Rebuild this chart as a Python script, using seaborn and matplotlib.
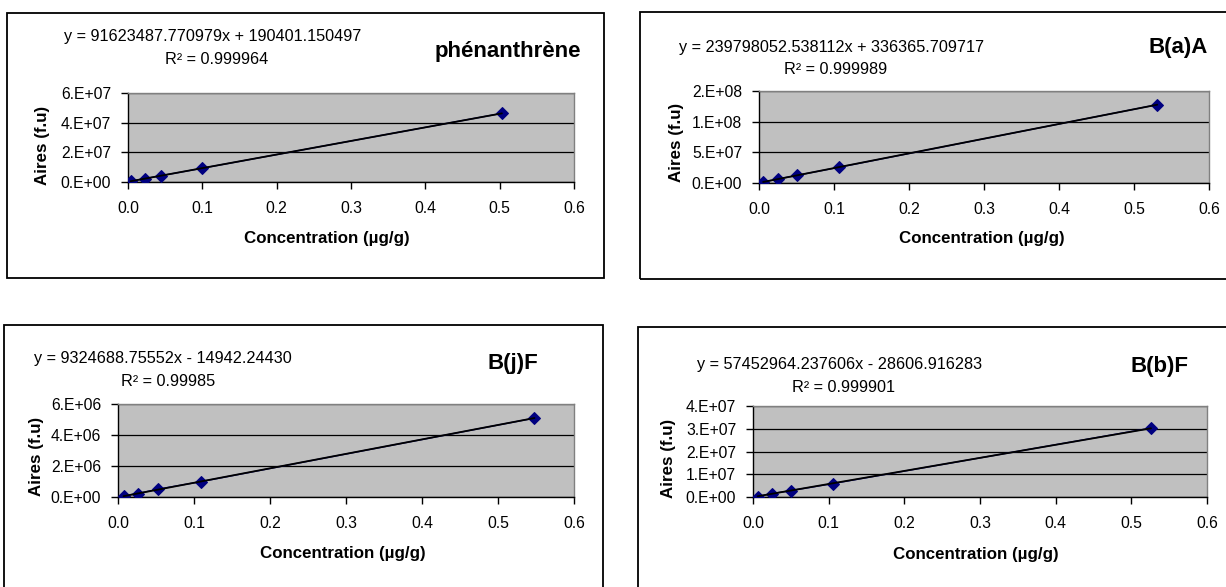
import matplotlib
matplotlib.use("Agg")
import matplotlib.pyplot as plt
import matplotlib.ticker as mticker
from matplotlib.patches import Rectangle
import seaborn as sns
import pandas as pd
import numpy as np

# ------------------------------------------------------------------
# data
# ------------------------------------------------------------------
names = ["phénanthrène", "B(a)A", "B(j)F", "B(b)F"]

conc_phe = [0.0035, 0.023, 0.045, 0.100, 0.503]
aire_phe = [0.5e6, 2.3e6, 4.3e6, 9.3e6, 4.63e7]

conc_baa = [0.0055, 0.025, 0.050, 0.106, 0.531]
aire_baa = [1.6e6, 6.4e6, 12.3e6, 25.5e6, 1.277e8]

conc_bjf = [0.0073, 0.026, 0.052, 0.109, 0.548]
aire_bjf = [0.08e6, 0.22e6, 0.50e6, 0.99e6, 5.09e6]

conc_bbf = [0.0061, 0.025, 0.050, 0.1055, 0.526]
aire_bbf = [0.2e6, 1.5e6, 2.8e6, 5.9e6, 3.03e7]

slopes = [91623487.770979, 239798052.538112, 9324688.75552, 57452964.237606]
intercepts = [190401.150497, 336365.709717, -14942.24430, -28606.916283]
equations = ["y = 91623487.770979x + 190401.150497",
             "y = 239798052.538112x + 336365.709717",
             "y = 9324688.75552x - 14942.24430",
             "y = 57452964.237606x - 28606.916283"]
r2_labels = ["R\u00b2 = 0.999964", "R\u00b2 = 0.999989", "R\u00b2 = 0.99985", "R\u00b2 = 0.999901"]

y_max = [6e7, 1.5e8, 6e6, 4e7]
y_step = [2e7, 5e7, 2e6, 1e7]
x_ticks = [0.0, 0.1, 0.2, 0.3, 0.4, 0.5, 0.6]

W, H = 1226, 587

# pixel layout: plot box, chart border, text anchors
layout = [
    dict(plot=(128, 93, 574, 182), border=(7, 13, 604, 278),
         eq=(64, 36.5), r2=(165, 59), title=(435, 51), xlab=(327, 239), ylab=(43, 145)),
    dict(plot=(759, 91, 1209, 183), border=(640, 12, 1260, 279),
         eq=(679, 47.5), r2=(784, 69), title=(1148, 47.5), xlab=(982, 239), ylab=(677, 142)),
    dict(plot=(118, 404, 574, 497), border=(4, 325, 603, 620),
         eq=(34, 359), r2=(121, 381), title=(487, 363), xlab=(343, 553.5), ylab=(36, 456)),
    dict(plot=(753, 406, 1207, 497), border=(638, 327, 1260, 620),
         eq=(697, 364.6), r2=(792, 387), title=(1130, 366.6), xlab=(976, 554.5), ylab=(669, 458)),
]

sns.set_style("white")
plt.rcParams['font.family'] = ['Liberation Sans', 'DejaVu Sans']
plt.rcParams['text.color'] = 'black'

fig = plt.figure(figsize=(W / 100, H / 100), dpi=100)


def fx(x):
    return x / W


def fy(y):
    return 1 - y / H


def sci_fmt(v, pos):
    return format(v, '#.0E')


datasets = [(conc_phe, aire_phe), (conc_baa, aire_baa), (conc_bjf, aire_bjf), (conc_bbf, aire_bbf)]

for i, (conc, aire) in enumerate(datasets):
    L = layout[i]
    bx0, by0, bx1, by1 = L["border"]
    fig.patches.append(Rectangle((fx(bx0), fy(by1)), fx(bx1 - bx0), (by1 - by0) / H,
                                 transform=fig.transFigure, fill=False,
                                 edgecolor="black", linewidth=1.3, zorder=0))

    px0, py0, px1, py1 = L["plot"]
    ax = fig.add_axes([fx(px0), fy(py1), fx(px1 - px0), (py1 - py0) / H])
    ax.set_facecolor("#C0C0C0")

    df = pd.DataFrame({"conc": conc, "aire": aire})
    sns.lineplot(data=df, x="conc", y="aire", ax=ax, color="#000080", linewidth=1,
                 marker="D", markersize=6.5, markeredgecolor="#000080", zorder=3)

    # linear trendline from the fitted coefficients
    xs = np.array([min(conc), max(conc)])
    trend = pd.DataFrame({"conc": xs, "aire": slopes[i] * xs + intercepts[i]})
    sns.lineplot(data=trend, x="conc", y="aire", ax=ax, color="black", linewidth=1.3, zorder=4)

    ax.set_xlim(0, 0.6)
    ax.set_ylim(0, y_max[i])
    ax.set_xticks(x_ticks)
    ax.set_yticks(np.arange(0, y_max[i] + y_step[i] / 2, y_step[i]))
    ax.xaxis.set_major_formatter(mticker.FormatStrFormatter('%.1f'))
    ax.yaxis.set_major_formatter(mticker.FuncFormatter(sci_fmt))
    ax.tick_params(axis="both", direction="out", length=5, width=1, colors="black",
                   labelsize=11.3, left=True, bottom=True)
    ax.tick_params(axis="x", pad=9)
    ax.tick_params(axis="y", pad=7)
    ax.grid(axis="y", color="black", linewidth=0.9)
    ax.grid(axis="x", visible=False)
    ax.set_axisbelow(True)
    for side in ["top", "right"]:
        ax.spines[side].set_color("#808080")
        ax.spines[side].set_linewidth(1)
    for side in ["left", "bottom"]:
        ax.spines[side].set_color("black")
        ax.spines[side].set_linewidth(1)
    ax.set_xlabel("")
    ax.set_ylabel("")

    fig.text(fx(L["eq"][0]), fy(L["eq"][1]), equations[i], fontsize=11.7, ha="left", va="center")
    fig.text(fx(L["r2"][0]), fy(L["r2"][1]), r2_labels[i], fontsize=11.7, ha="left", va="center")
    fig.text(fx(L["title"][0]), fy(L["title"][1]), names[i], fontsize=16, fontweight="bold",
             ha="left", va="center")
    fig.text(fx(L["xlab"][0]), fy(L["xlab"][1]), "Concentration (µg/g)", fontsize=12.2,
             fontweight="bold", ha="center", va="center")
    fig.text(fx(L["ylab"][0]), fy(L["ylab"][1]), "Aires (f.u)", fontsize=12.2,
             fontweight="bold", ha="center", va="center", rotation=90)

fig.savefig("out.png", dpi=100)
